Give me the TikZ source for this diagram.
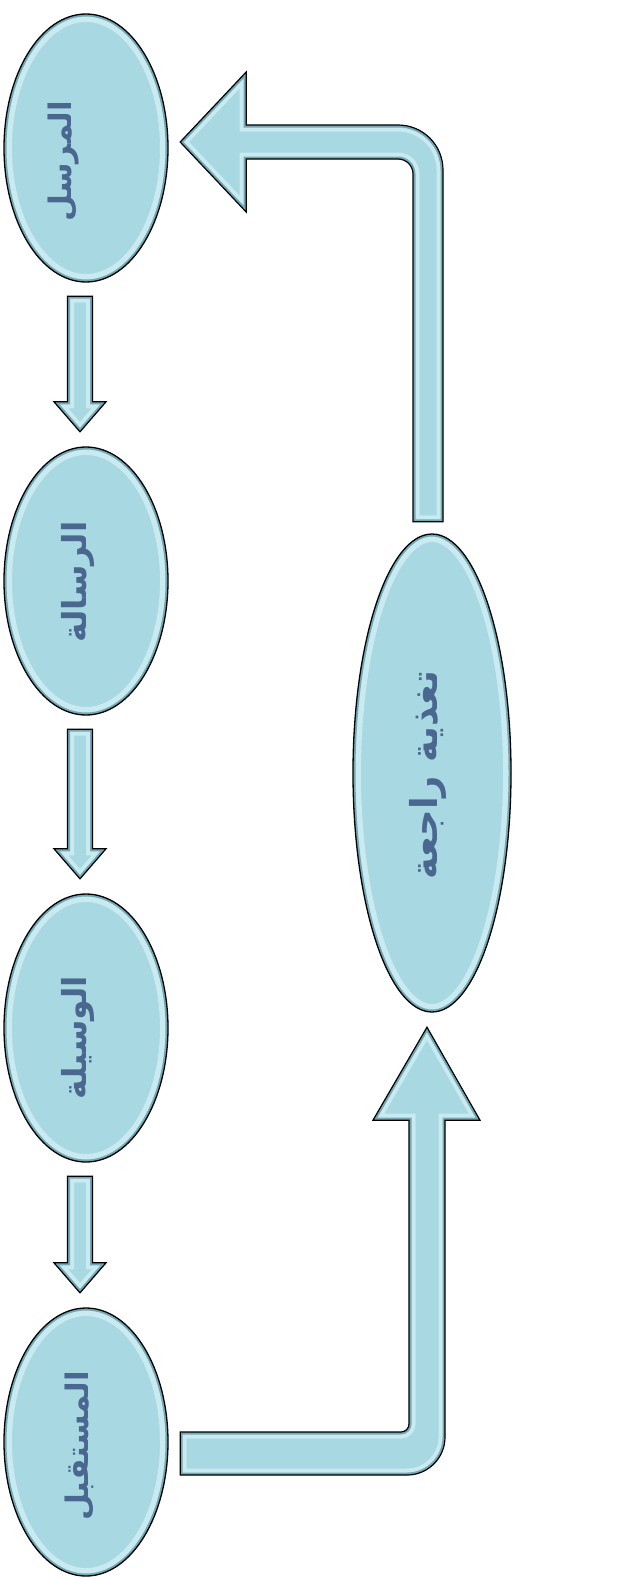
\documentclass[tikz,border=0pt]{standalone}
\usepackage{fontspec}
\usepackage{graphicx}
\TeXXeTstate=1
\newfontfamily\arabicfont[Script=Arabic]{DejaVu Sans}
\usetikzlibrary{shapes.geometric,calc}
\definecolor{fillc}{HTML}{A8D8E1}
\definecolor{rimc}{HTML}{74A9B4}
\definecolor{hic}{HTML}{C8EAF0}
\definecolor{txtc}{HTML}{4A6790}
\newcommand\artext[2][31]{\rotatebox{90}{\arabicfont\bfseries\fontsize{#1}{36}\selectfont\beginR #2\endR}}
\tikzset{
  oval/.style={ellipse, fill=fillc, inner sep=0pt, text=txtc},
  lbl/.style={text=txtc, inner sep=0pt},
  edgeline/.style={draw=black, line width=1.3pt},
  blk/.style={fill=fillc},
  blkline/.style={draw=black, line width=1.2pt, line join=miter}
}
% bevel for an ellipse node: #1 name, #2 x radius, #3 y radius
\newcommand\ovalfx[3]{%
  \begin{scope}
    \clip (#1.center) ellipse [x radius=#2, y radius=#3];
    \draw[hic, line width=16pt] (#1.center) ellipse [x radius=#2, y radius=#3];
    \draw[rimc, line width=5pt] (#1.center) ellipse [x radius=#2, y radius=#3];
  \end{scope}
  \draw[edgeline] (#1.center) ellipse [x radius=#2, y radius=#3];
}
% block-arrow outlines
\newcommand\downpath[2]{let \p1=($(#1.south)+(-6,14)$), \p2=($(#2.north)+(-6,-15)$) in
    (\x1-12.5pt,\y1) -- (\x1+12.5pt,\y1) -- (\x1+12.5pt,\y2+30pt) -- (\x1+26pt,\y2+30pt)
    -- (\x2,\y2) -- (\x1-26pt,\y2+30pt) -- (\x1-12.5pt,\y2+30pt) -- cycle}
\newcommand\botpath{let \p1=($(e4.east)+(12,-10)$), \p2=($(fb.south)+(-5,15)$) in
  (\x1,\y1) -- (\x2-26pt,\y1) .. controls (\x2-21.6pt,\y1) and (\x2-18pt,\y1+3.6pt) .. (\x2-18pt,\y1+8pt)
  -- (\x2-18pt,\y2-93pt) -- (\x2-54pt,\y2-93pt) -- (\x2,\y2) -- (\x2+53pt,\y2-93pt) -- (\x2+18pt,\y2-93pt)
  -- (\x2+18pt,\y1-5pt) .. controls (\x2+18pt,\y1-26pt) and (\x2+1pt,\y1-43pt) .. (\x2-20pt,\y1-43pt)
  -- (\x1,\y1-43pt) -- cycle}
\newcommand\toppath{let \p1=($(fb.north)+(-4,-12)$), \p2=($(e1.east)+(12,-6)$) in
  (\x1-15pt,\y1) -- (\x1-15pt,\y2-32pt) .. controls (\x1-15pt,\y2-23.7pt) and (\x1-21.7pt,\y2-17pt) .. (\x1-30pt,\y2-17pt)
  -- (\x2+66pt,\y2-17pt) -- (\x2+66pt,\y2-70pt) -- (\x2,\y2) -- (\x2+66pt,\y2+70pt) -- (\x2+66pt,\y2+17pt)
  -- (\x1-30pt,\y2+17pt) .. controls (\x1-5pt,\y2+17pt) and (\x1+15pt,\y2-3pt) .. (\x1+15pt,\y2-28pt)
  -- (\x1+15pt,\y1) -- cycle}
\newcommand\bevelarrow[1]{%
  \path[blk] #1;
  \begin{scope}
    \clip #1;
    \draw[hic, line width=13pt] #1;
    \draw[rimc, line width=5pt] #1;
  \end{scope}
  \path[blkline] #1;
}
\begin{document}
\begin{tikzpicture}[x=1pt,y=-1pt]
\useasboundingbox (0,0) rectangle (627,1579);
\node[oval, minimum width=164pt, minimum height=268pt] (e1) at (86,148) {};
\node[oval, minimum width=164pt, minimum height=268pt] (e2) at (86,581) {};
\node[oval, minimum width=164pt, minimum height=268pt] (e3) at (86,1028) {};
\node[oval, minimum width=164pt, minimum height=268pt] (e4) at (86,1442) {};
\node[oval, minimum width=158pt, minimum height=478pt] (fb) at (432,773) {};
\ovalfx{e1}{82pt}{134pt}
\ovalfx{e2}{82pt}{134pt}
\ovalfx{e3}{82pt}{134pt}
\ovalfx{e4}{82pt}{134pt}
\ovalfx{fb}{79pt}{239pt}
\node[lbl] (t1) at ($(e1.center)+(-22,13)$) {\artext{المرسل}};
\node[lbl] (t2) at ($(e2.center)+(-8,1)$) {\artext[33]{الرسالة}};
\node[lbl] (t3) at ($(e3.center)+(-8,10)$) {\artext[33]{الوسيلة}};
\node[lbl] (t4) at ($(e4.center)+(-6,4)$) {\artext[31]{المستقبل}};
\node[lbl] (t5) at ($(fb.center)+(-4,2)$) {\artext[37]{تغذية راجعة}};
\bevelarrow{\downpath{e1}{e2}}
\bevelarrow{\downpath{e2}{e3}}
\bevelarrow{\downpath{e3}{e4}}
\bevelarrow{\botpath}
\bevelarrow{\toppath}
\end{tikzpicture}
\end{document}
